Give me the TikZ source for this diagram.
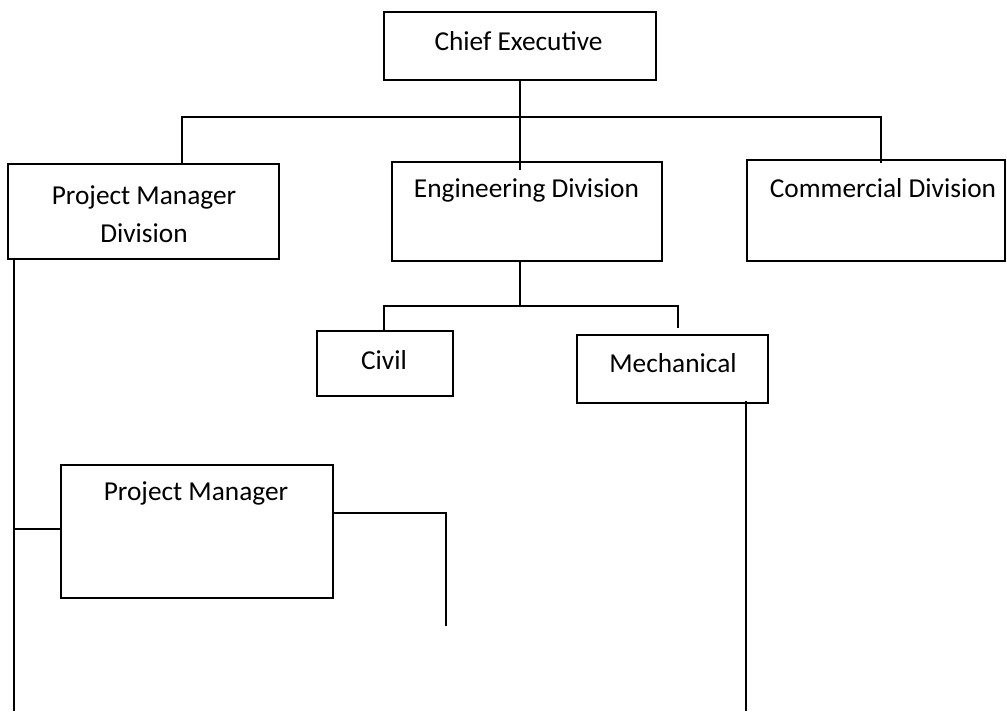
\documentclass[tikz,border=0pt]{standalone}
\usepackage{fontspec}
\setmainfont{Carlito}
\usetikzlibrary{fit}
\begin{document}
\begin{tikzpicture}[x=0.75pt,y=-0.75pt,
  box/.style={draw=black, line width=1.3pt, inner sep=0pt, fill=white},
  lbl/.style={font=\fontsize{20.5}{28.5}\selectfont, inner sep=0pt, align=center},
  conn/.style={draw=black, line width=1.3pt}]
\useasboundingbox[fill=white] (0,0) rectangle (1007,711);
% boxes
\node[box, fit={(384,12) (656,80)}] (ce) {};
\node[box, fit={(8,164) (279,259)}] (pmd) {};
\node[box, fit={(392,162) (662,261)}] (eng) {};
\node[box, fit={(747,160) (1005,261)}] (com) {};
\node[box, fit={(317,331) (453,396)}] (civ) {};
\node[box, fit={(577,335) (768,403)}] (mech) {};
\node[box, fit={(61,465) (333,598)}] (pm) {};
% texts
\node[lbl] (cet) at (518.5,41) {Chief Executive};
\node[lbl] (pmdt) at (144,214) {Project Manager\\Division};
\node[lbl] (engt) at (526.5,190) {Engineering Division};
\node[lbl] (comt) at (883,188) {Commercial Division};
\node[lbl] (civt) at (384,360) {Civil};
\node[lbl] (mecht) at (673,363) {Mechanical};
\node[lbl] (pmt) at (196,493) {Project Manager};
% connector points
\coordinate (bus) at (520,117);
\coordinate (busL) at (182,117);
\coordinate (busR) at (881,117);
\coordinate (engIn) at (520,170);
\coordinate (comIn) at (881,163);
\coordinate (engB) at (520,261);
\coordinate (sub) at (520,306);
\coordinate (subL) at (384,306);
\coordinate (subR) at (678,306);
\coordinate (mechIn) at (678,328);
\coordinate (mechOut) at (746,401);
\coordinate (mechEnd) at (746,711);
\coordinate (pmdOut) at (14,259);
\coordinate (pmdEnd) at (14,711);
\coordinate (pmBr) at (14,529);
\coordinate (pmOut) at (333,513);
\coordinate (pmTurn) at (446,513);
\coordinate (pmEnd) at (446,626);
% connectors
\draw[conn] (ce.south) -- (bus) -- (engIn);
\draw[conn] (busL |- pmd.north) -- (busL) -- (busR) -- (comIn);
\draw[conn] (engB) -- (sub);
\draw[conn] (subL |- civ.north) -- (subL) -- (subR) -- (mechIn);
\draw[conn] (mechOut) -- (mechEnd);
\draw[conn] (pmdOut) -- (pmdEnd);
\draw[conn] (pmBr) -- (pmBr -| pm.west);
\draw[conn] (pmOut) -- (pmTurn) -- (pmEnd);
\end{tikzpicture}
\end{document}
